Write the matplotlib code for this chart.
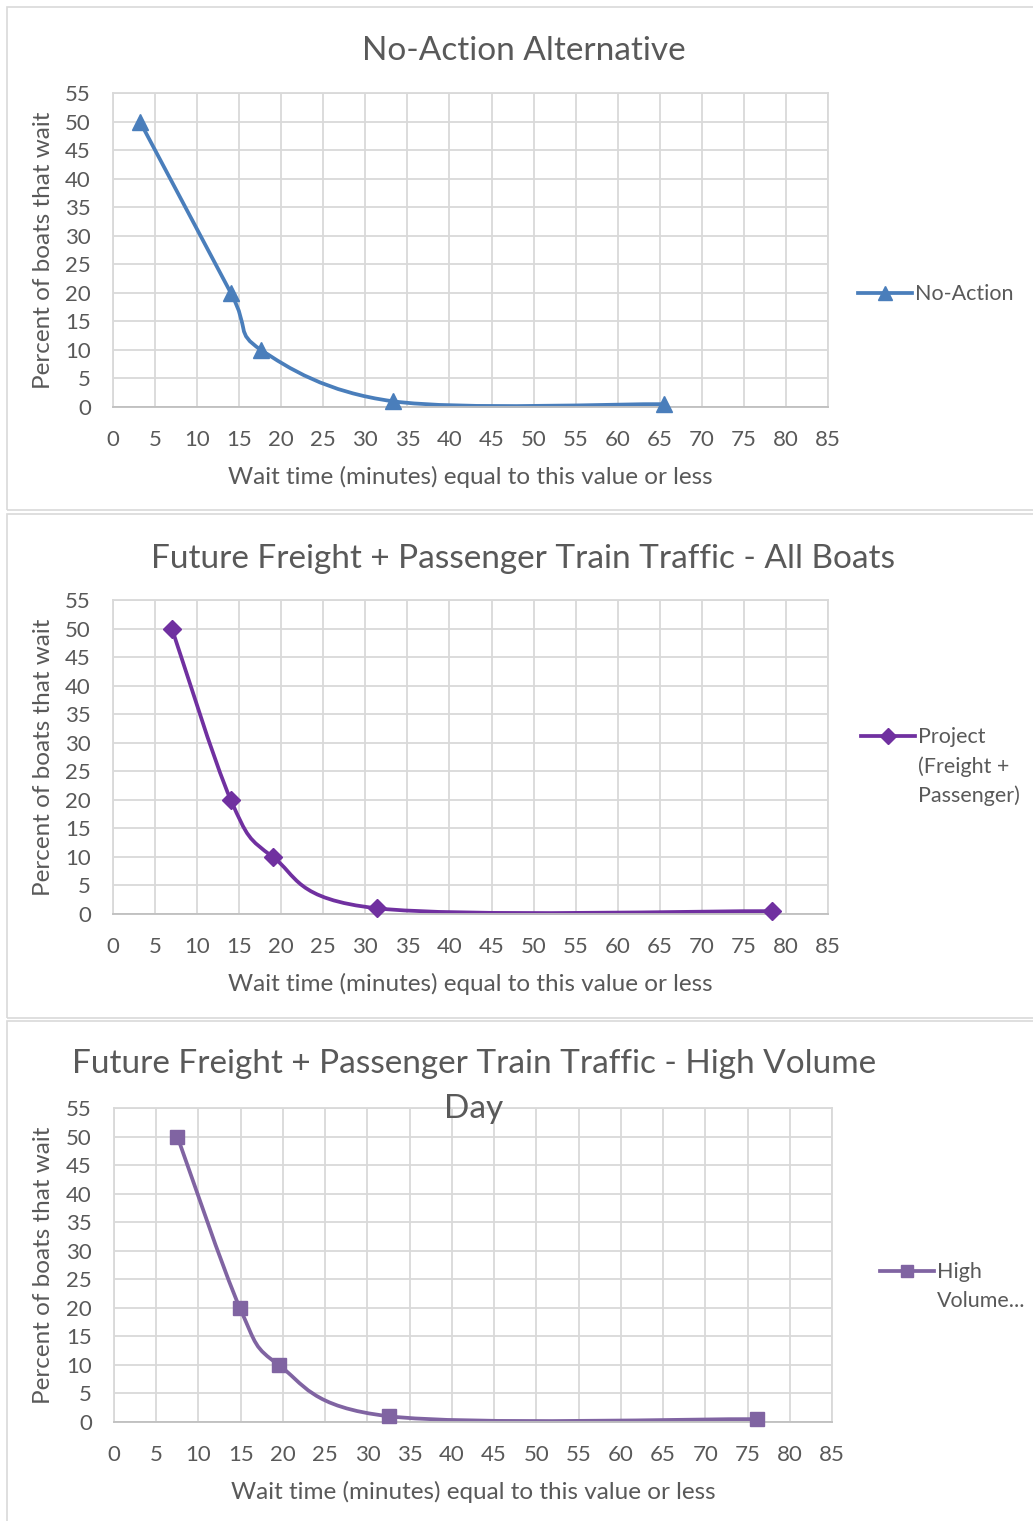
import matplotlib
matplotlib.use("Agg")
import matplotlib.pyplot as plt
from matplotlib.path import Path
from matplotlib.patches import PathPatch, Rectangle
from matplotlib.lines import Line2D

plt.rcParams["font.family"] = ["Lato", "DejaVu Sans"]

# data
# the third title wraps in the chart, so it is kept as two lines
titles = [
    ["No-Action Alternative"],
    ["Future Freight + Passenger Train Traffic - All Boats"],
    ["Future Freight + Passenger Train Traffic - High Volume", "Day"],
]
legend_labels = ["No-Action", "Project\n(Freight +\nPassenger)", "High\nVolume..."]

no_action_wait = [3.2, 14.0, 17.6, 33.3, 65.5]
no_action_pct = [50, 20, 10, 1, 0.5]

project_wait = [7.0, 14.0, 19.0, 31.4, 78.4]
project_pct = [50, 20, 10, 1, 0.5]

high_vol_wait = [7.5, 14.9, 19.5, 32.6, 76.1]
high_vol_pct = [50, 20, 10, 1, 0.5]

x_ticks = list(range(0, 90, 5))
y_ticks = list(range(0, 60, 5))

colors = ["#4A7EBB", "#7030A0", "#8064A2"]
markers = ["^", "D", "s"]
marker_sizes = [12, 9, 10.5]

W, H = 1033, 1521
TEXT = "#595959"
GRID = "#D9D9D9"


def smooth_path(xs, ys):
    # Excel-style smoothed line: Catmull-Rom turned into cubic Bezier segments
    pts = list(zip(xs, ys))
    verts = [pts[0]]
    codes = [Path.MOVETO]
    n = len(pts)
    for i in range(n - 1):
        p0 = pts[max(i - 1, 0)]
        p1 = pts[i]
        p2 = pts[i + 1]
        p3 = pts[min(i + 2, n - 1)]
        c1 = (p1[0] + (p2[0] - p0[0]) / 6, p1[1] + (p2[1] - p0[1]) / 6)
        c2 = (p2[0] - (p3[0] - p1[0]) / 6, p2[1] - (p3[1] - p1[1]) / 6)
        verts += [c1, c2, p2]
        codes += [Path.CURVE4] * 3
    return Path(verts, codes)


def fx(px):
    return px / W


def fy(py):
    return 1 - py / H


fig = plt.figure(figsize=(W / 100, H / 100), dpi=100)

# panel frames (pixels: left, top, right, bottom)
frames = [(7, 7, 1040, 510), (7, 514, 1040, 1018), (7, 1021, 1040, 1530)]
for l, t, r, b in frames:
    fig.add_artist(Rectangle((fx(l), fy(b)), fx(r - l), (b - t) / H,
                             transform=fig.transFigure, fill=False,
                             edgecolor=GRID, lw=1.2))

# axes boxes in pixels: left, top, right, bottom
boxes = [(113, 93, 828, 407), (113, 600, 828, 914), (114, 1108, 832, 1422)]
title_pos = [(524, 51), (523, 559), (474, 1064)]
legend_pos = [(858, 293), (861, 736), (880, 1271)]
series = [(no_action_wait, no_action_pct), (project_wait, project_pct),
          (high_vol_wait, high_vol_pct)]

for k in range(3):
    l, t, r, b = boxes[k]
    ax = fig.add_axes([fx(l), fy(b), fx(r - l), (b - t) / H])
    ax.set_xlim(0, 85)
    ax.set_ylim(0, 55)
    ax.set_xticks(x_ticks)
    ax.set_yticks(y_ticks)
    ax.grid(True, color=GRID, lw=1.3)
    ax.set_axisbelow(True)
    for s in ax.spines.values():
        s.set_color(GRID)
        s.set_linewidth(1.3)
    ax.spines["bottom"].set_color("#BFBFBF")
    ax.tick_params(length=0, labelsize=16, labelcolor=TEXT)
    ax.tick_params(axis="x", pad=16.5)
    ax.tick_params(axis="y", pad=16)
    ax.set_xlabel("Wait time (minutes) equal to this value or less",
                  fontsize=17.5, color=TEXT)
    ax.set_ylabel("Percent of boats that wait", fontsize=17.5, color=TEXT)
    w_px = r - l
    h_px = b - t
    ax.xaxis.set_label_coords(0.5, -(466 - 407) / h_px)
    ax.yaxis.set_label_coords(-(l - 54) / w_px, 0.5)

    xs, ys = series[k]
    ax.add_patch(PathPatch(smooth_path(xs, ys), fill=False,
                           edgecolor=colors[k], lw=2.7, clip_on=False,
                           capstyle="round", joinstyle="round"))
    ax.plot(xs, ys, linestyle="none", marker=markers[k],
            markersize=marker_sizes[k], color=colors[k], clip_on=False,
            zorder=5)

    tx, ty = title_pos[k]
    for j, line in enumerate(titles[k]):
        fig.text(fx(tx), fy(ty + 45 * j), line, ha="center", va="center",
                 fontsize=24, color=TEXT)

    # legend drawn by hand so the key sits beside the first line of text
    lx, ly = legend_pos[k]
    fig.add_artist(Line2D([fx(lx), fx(lx + 54)], [fy(ly), fy(ly)],
                          color=colors[k], lw=2.7,
                          transform=fig.transFigure))
    fig.add_artist(Line2D([fx(lx + 27)], [fy(ly)], marker=markers[k],
                          markersize=marker_sizes[k] * 0.85,
                          color=colors[k], transform=fig.transFigure))
    fig.text(fx(lx + 57), fy(ly - 9), legend_labels[k], ha="left",
             va="top", fontsize=15.5, color=TEXT, linespacing=1.55)

fig.savefig("out.png", dpi=100)
